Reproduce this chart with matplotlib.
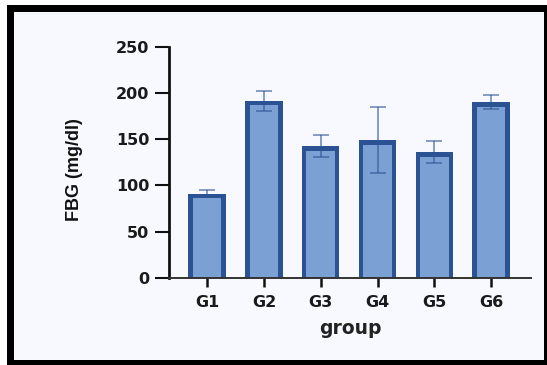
import matplotlib
matplotlib.use('Agg')
import matplotlib.pyplot as plt
from matplotlib.patches import Rectangle
import numpy as np

# FBG per group, mean and SD
groups = ['G1', 'G2', 'G3', 'G4', 'G5', 'G6']
fbg_mean = [91, 191.5, 142.5, 149, 136, 190]
fbg_sd = [4, 11, 11.5, 36, 12, 7.5]
y_ticks = [0, 50, 100, 150, 200, 250]

FILL = '#7ba0d4'
EDGE = '#2b5394'
BG = '#f8f9fe'

fig = plt.figure(figsize=(5.47, 3.65), dpi=100)
W, H = 547.0, 365.0

# black frame with light panel inside (pixel coords, top-left origin)
def px_rect(x0, y0, x1, y1, **kw):
    return Rectangle((x0 / W, 1 - y1 / H), (x1 - x0) / W, (y1 - y0) / H,
                     transform=fig.transFigure, **kw)

fig.patches.append(px_rect(6.5, 4.5, 560, 370, facecolor='black', edgecolor='none', zorder=-2))
fig.patches.append(px_rect(14.3, 12.3, 544, 360, facecolor=BG, edgecolor='none', zorder=-1))

ax = fig.add_axes([169 / W, 1 - 277.7 / H, (531 - 169) / W, (277.7 - 46.7) / H])
ax.set_facecolor('none')

xlim = (-0.67, 5.7)
ylim = (0, 250)
ax.set_xlim(*xlim)
ax.set_ylim(*ylim)

x = np.arange(len(groups))
bar_w = 0.66
# border thickness in pixels, converted to data units for the inner fill
border_px = 4.5
bb = ax.get_window_extent()
dx = border_px * (xlim[1] - xlim[0]) / bb.width
dy = border_px * (ylim[1] - ylim[0]) / bb.height

ax.bar(x, fbg_mean, width=bar_w, color=EDGE, linewidth=0, zorder=2)
ax.bar(x, np.asarray(fbg_mean) - dy, width=bar_w - 2 * dx, color=FILL,
       linewidth=0, zorder=2.1)

ax.errorbar(x, fbg_mean, yerr=fbg_sd, fmt='none', ecolor=EDGE, alpha=0.6,
            elinewidth=1.3, capsize=6, capthick=1.3, zorder=3)

ax.set_yticks(y_ticks)
ax.set_xticks(x)
ax.set_xticklabels(groups)

for s in ['top', 'right']:
    ax.spines[s].set_visible(False)
ax.spines['left'].set_linewidth(2)
ax.spines['left'].set_color('#111111')
ax.spines['bottom'].set_linewidth(1.4)
ax.spines['bottom'].set_color('#333333')
ax.spines['bottom'].set_zorder(4)

ax.tick_params(axis='y', direction='out', length=10, width=1.5, pad=4,
               color='#111111', labelcolor='#1a1a1a', labelsize=11.5)
ax.tick_params(axis='x', direction='out', length=6.5, width=1.8, pad=6,
               color='#111111', labelcolor='#1a1a1a', labelsize=11.5)
for lab in ax.get_xticklabels() + ax.get_yticklabels():
    lab.set_fontweight('bold')
    lab.set_family('DejaVu Sans')

ax.set_ylabel('FBG (mg/dl)', fontsize=13, fontweight='bold',
              family='Liberation Sans', color='#111111', va='center')
ax.yaxis.set_label_coords(-0.262, 0.466)
ax.set_xlabel('group', fontsize=13.5, fontweight='bold',
              family='DejaVu Sans', color='#222222', va='center')
ax.xaxis.set_label_coords(0.5, -0.218)

fig.savefig('out.png', dpi=100, facecolor='white')
plt.close('all')
